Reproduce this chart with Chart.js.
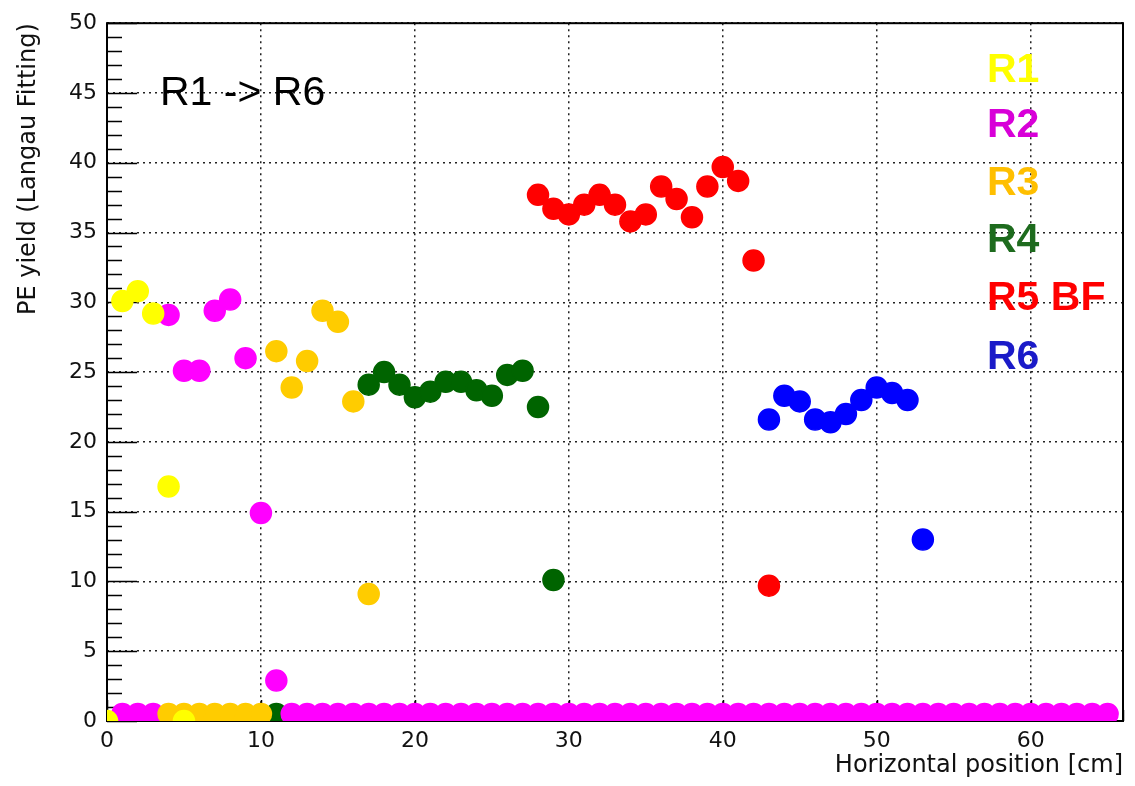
<!DOCTYPE html>
<html>
<head>
<meta charset="utf-8">
<script src="https://cdn.jsdelivr.net/npm/chart.js@4"></script>
<style>
  html, body { margin: 0; padding: 0; background: #fff; }
  #wrap { width: 1135px; height: 786px; }
</style>
</head>
<body>
<div id="wrap"><canvas id="peChart"></canvas></div>
<script>
// PE yield per region vs horizontal position
const r1X = [0, 1, 2, 3, 4, 5];
const r1Y = [0.0, 30.1, 30.8, 29.2, 16.8, 0.0];

const r2X = [1, 2, 3, 4, 5, 6, 7, 8, 9, 10, 11,
  12, 13, 14, 15, 16, 17, 18, 19, 20, 21, 22, 23, 24, 25, 26, 27, 28, 29, 30,
  31, 32, 33, 34, 35, 36, 37, 38, 39, 40, 41, 42, 43, 44, 45, 46, 47, 48, 49,
  50, 51, 52, 53, 54, 55, 56, 57, 58, 59, 60, 61, 62, 63, 64, 65];
const r2Y = [0.5, 0.5, 0.5, 29.1, 25.1, 25.1, 29.4, 30.2, 26.0, 14.9, 2.9,
  0.5, 0.5, 0.5, 0.5, 0.5, 0.5, 0.5, 0.5, 0.5, 0.5, 0.5, 0.5, 0.5, 0.5, 0.5, 0.5, 0.5, 0.5, 0.5,
  0.5, 0.5, 0.5, 0.5, 0.5, 0.5, 0.5, 0.5, 0.5, 0.5, 0.5, 0.5, 0.5, 0.5, 0.5, 0.5, 0.5, 0.5, 0.5,
  0.5, 0.5, 0.5, 0.5, 0.5, 0.5, 0.5, 0.5, 0.5, 0.5, 0.5, 0.5, 0.5, 0.5, 0.5, 0.5];

const r3X = [4, 5, 6, 7, 8, 9, 10, 11, 12, 13, 14, 15, 16, 17];
const r3Y = [0.5, 0.5, 0.5, 0.5, 0.5, 0.5, 0.5, 26.5, 23.9, 25.8, 29.4, 28.6, 22.9, 9.1];

const r4X = [11, 17, 18, 19, 20, 21, 22, 23, 24, 25, 26, 27, 28, 29];
const r4Y = [0.5, 24.1, 25.0, 24.1, 23.2, 23.6, 24.3, 24.3, 23.7, 23.3, 24.8, 25.1, 22.5, 10.1];

const r5X = [28, 29, 30, 31, 32, 33, 34, 35, 36, 37, 38, 39, 40, 41, 42, 43];
const r5Y = [37.7, 36.7, 36.3, 37.0, 37.7, 37.0, 35.8, 36.3, 38.3, 37.4, 36.1, 38.3, 39.7, 38.7, 33.0, 9.7];

const r6X = [43, 44, 45, 46, 47, 48, 49, 50, 51, 52, 53];
const r6Y = [21.6, 23.3, 22.9, 21.6, 21.4, 22.0, 23.0, 23.9, 23.5, 23.0, 13.0];

const regionNames = ['R1', 'R2', 'R3', 'R4', 'R5 BF', 'R6'];
const markerColors = ['#ffff00', '#ff00ff', '#ffcc00', '#006400', '#ff0000', '#0000ff'];
const labelColors = ['#ffff00', '#d800d8', '#ffbf00', '#1e6b1e', '#ff0000', '#1b1bc8'];
const drawOrder = [0, 2, 1, 5, 3, 4]; // lower = drawn on top

const yTicks = [0, 5, 10, 15, 20, 25, 30, 35, 40, 45, 50];
const xTicks = [0, 10, 20, 30, 40, 50, 60];

const toPoints = (xs, ys) => xs.map((x, i) => ({ x: x, y: ys[i] }));
const seriesX = [r1X, r2X, r3X, r4X, r5X, r6X];
const seriesY = [r1Y, r2Y, r3Y, r4Y, r5Y, r6Y];

// frame + inner tick marks (ROOT style), drawn under the markers
const framePlugin = {
  id: 'frame',
  beforeDatasetsDraw(chart) {
    const { ctx, chartArea: a, scales: { x, y } } = chart;
    ctx.save();
    ctx.strokeStyle = '#000';
    ctx.lineWidth = 1.5;
    ctx.beginPath();
    for (let v = 0; v <= 50; v += 1) {
      const py = Math.round(y.getPixelForValue(v)) + 0.5;
      const len = v % 5 === 0 ? 30 : 15;
      ctx.moveTo(a.left, py);
      ctx.lineTo(a.left + len, py);
    }
    for (let v = 0; v <= 66; v += 2) {
      const px = Math.round(x.getPixelForValue(v)) + 0.5;
      const len = v % 10 === 0 ? 21 : 11;
      ctx.moveTo(px, a.bottom);
      ctx.lineTo(px, a.bottom - len);
    }
    ctx.stroke();
    ctx.lineWidth = 2;
    ctx.strokeRect(a.left, a.top, a.right - a.left, a.bottom - a.top);
    ctx.restore();
  },
  afterDatasetsDraw(chart) {
    const { ctx } = chart;
    ctx.save();
    ctx.textAlign = 'left';
    ctx.textBaseline = 'alphabetic';
    ctx.fillStyle = '#000';
    ctx.font = '41px "Liberation Sans", Arial, sans-serif';
    ctx.fillText('R1 -> R6', 160, 105);
    const baselines = [82, 137, 195, 252, 310, 369];
    ctx.font = 'bold 41px "Liberation Sans", Arial, sans-serif';
    regionNames.forEach((name, i) => {
      ctx.fillStyle = labelColors[i];
      ctx.fillText(name, 987, baselines[i]);
    });
    ctx.restore();
  }
};

const ctx = document.getElementById('peChart').getContext('2d');
new Chart(ctx, {
  type: 'scatter',
  data: {
    datasets: regionNames.map((name, i) => ({
      label: name,
      data: toPoints(seriesX[i], seriesY[i]),
      backgroundColor: markerColors[i],
      borderColor: markerColors[i],
      borderWidth: 1.5,
      pointRadius: 10.5,
      pointHoverRadius: 10.5,
      order: drawOrder[i]
    }))
  },
  options: {
    responsive: true,
    maintainAspectRatio: false,
    animation: false,
    events: [],
    elements: { point: { radius: 10.5, hoverRadius: 10.5, borderWidth: 1.5 } },
    layout: { padding: { top: 22, right: 5, left: 0, bottom: 0 } },
    plugins: {
      legend: { display: false },
      tooltip: { enabled: false }
    },
    scales: {
      x: {
        type: 'linear',
        min: 0,
        max: 66,
        afterFit: s => { s.height = 65; },
        afterBuildTicks: s => { s.ticks = xTicks.map(v => ({ value: v })); },
        ticks: {
          padding: 7,
          color: '#111',
          font: { family: '"DejaVu Sans", sans-serif', size: 22 }
        },
        grid: { color: '#222', lineWidth: 1.5, drawTicks: false },
        border: { display: false, dash: [2, 4] },
        title: {
          display: true,
          text: 'Horizontal position [cm]',
          align: 'end',
          color: '#111',
          padding: { top: 0, bottom: 6 },
          font: { family: '"DejaVu Sans", sans-serif', size: 24 }
        }
      },
      y: {
        type: 'linear',
        min: 0,
        max: 50,
        afterFit: s => { s.width = 107; },
        afterBuildTicks: s => { s.ticks = yTicks.map(v => ({ value: v })); },
        ticks: {
          padding: 10,
          color: '#111',
          font: { family: '"DejaVu Sans", sans-serif', size: 22 }
        },
        grid: { color: '#222', lineWidth: 1.5, drawTicks: false },
        border: { display: false, dash: [2, 4] },
        title: {
          display: true,
          text: 'PE yield (Langau Fitting)',
          align: 'end',
          color: '#111',
          padding: { top: 14, bottom: 0 },
          font: { family: '"DejaVu Sans", sans-serif', size: 24 }
        }
      }
    }
  },
  plugins: [framePlugin]
});
</script>
</body>
</html>
